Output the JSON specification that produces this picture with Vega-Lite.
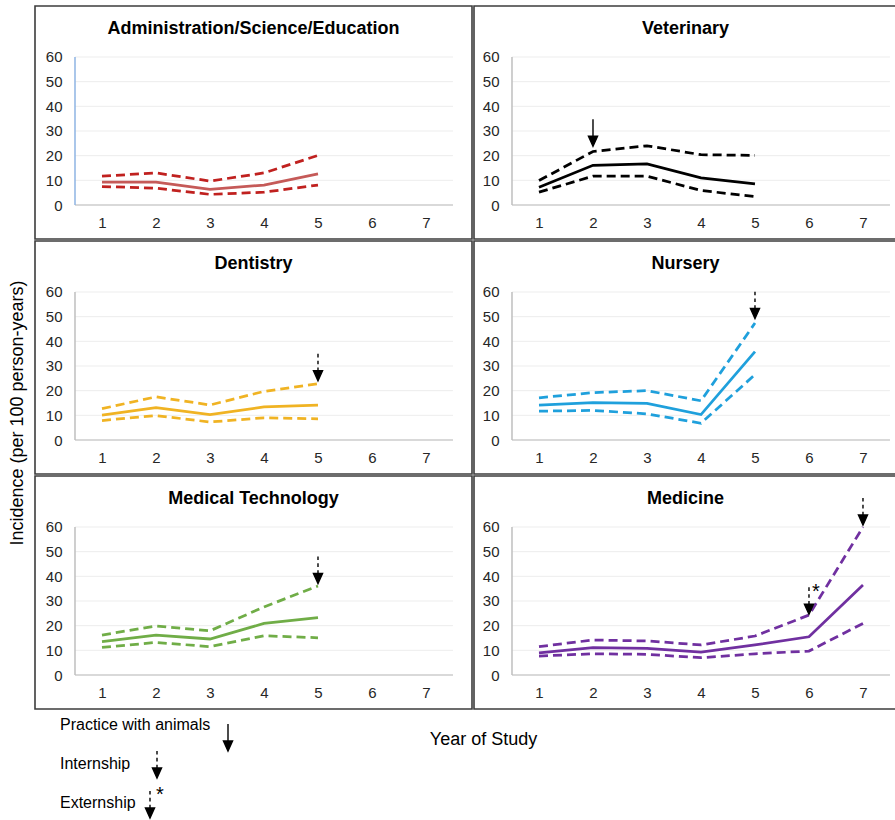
{
 "$schema": "https://vega.github.io/schema/vega-lite/v6.json",
 "padding": {"left": 9, "top": 5, "right": 0, "bottom": 0},
 "title": {"text": "Incidence (per 100 person-years)", "orient": "left", "anchor": "middle", "fontSize": 18, "fontWeight": "normal", "color": "#000", "offset": 7, "frame": "bounds"},
 "spacing": 0,
 "config": {
  "font": "Liberation Sans",
  "view": {"stroke": "#3c3c3c", "strokeWidth": 1.6},
  "axis": {"minExtent": 0},
  "title": {"fontSize": 18, "fontWeight": "bold", "color": "#000", "anchor": "middle", "frame": "group", "offset": -32}
 },
 "datasets": {
  "gridTicks": [{"tick": 0}, {"tick": 10}, {"tick": 20}, {"tick": 30}, {"tick": 40}, {"tick": 50}, {"tick": 60}],
  "one": [{"n": 1}],
  "admin": [
   {"year": 1, "est": 9.3, "lo": 7.5, "hi": 11.7},
   {"year": 2, "est": 9.3, "lo": 6.8, "hi": 13.0},
   {"year": 3, "est": 6.3, "lo": 4.3, "hi": 9.7},
   {"year": 4, "est": 8.1, "lo": 5.2, "hi": 13.0},
   {"year": 5, "est": 12.6, "lo": 8.1, "hi": 20.1}
  ],
  "vet": [
   {"year": 1, "est": 7.2, "lo": 5.2, "hi": 9.9},
   {"year": 2, "est": 16.1, "lo": 11.7, "hi": 21.7},
   {"year": 3, "est": 16.7, "lo": 11.7, "hi": 24.0},
   {"year": 4, "est": 11.0, "lo": 5.9, "hi": 20.4},
   {"year": 5, "est": 8.6, "lo": 3.4, "hi": 20.1}
  ],
  "dent": [
   {"year": 1, "est": 10.1, "lo": 7.9, "hi": 12.7},
   {"year": 2, "est": 13.1, "lo": 9.9, "hi": 17.5},
   {"year": 3, "est": 10.3, "lo": 7.3, "hi": 14.2},
   {"year": 4, "est": 13.4, "lo": 9.0, "hi": 19.7},
   {"year": 5, "est": 14.1, "lo": 8.6, "hi": 22.8}
  ],
  "nurs": [
   {"year": 1, "est": 14.1, "lo": 11.7, "hi": 17.1},
   {"year": 2, "est": 15.2, "lo": 12.0, "hi": 19.2},
   {"year": 3, "est": 14.8, "lo": 10.6, "hi": 20.0},
   {"year": 4, "est": 10.3, "lo": 6.8, "hi": 15.9},
   {"year": 5, "est": 35.8, "lo": 26.5, "hi": 47.4}
  ],
  "medtech": [
   {"year": 1, "est": 13.5, "lo": 11.2, "hi": 16.2},
   {"year": 2, "est": 16.2, "lo": 13.2, "hi": 19.9},
   {"year": 3, "est": 14.6, "lo": 11.5, "hi": 17.9},
   {"year": 4, "est": 20.9, "lo": 15.9, "hi": 27.6},
   {"year": 5, "est": 23.3, "lo": 15.1, "hi": 36.1}
  ],
  "medicine": [
   {"year": 1, "est": 9.0, "lo": 7.7, "hi": 11.5},
   {"year": 2, "est": 11.1, "lo": 8.6, "hi": 14.2},
   {"year": 3, "est": 10.8, "lo": 8.4, "hi": 13.8},
   {"year": 4, "est": 9.3, "lo": 7.0, "hi": 12.2},
   {"year": 5, "est": 12.2, "lo": 8.6, "hi": 15.8},
   {"year": 6, "est": 15.5, "lo": 9.7, "hi": 24.3},
   {"year": 7, "est": 36.5, "lo": 20.9, "hi": 60.0}
  ],
  "events": [
   {"field": "Veterinary", "year": 2, "kind": "Practice with animals", "tip": 23.8},
   {"field": "Dentistry", "year": 5, "kind": "Internship", "tip": 24.0},
   {"field": "Nursery", "year": 5, "kind": "Internship", "tip": 49.2},
   {"field": "Medical Technology", "year": 5, "kind": "Internship", "tip": 37.1},
   {"field": "Medicine", "year": 6, "kind": "Externship", "tip": 24.6},
   {"field": "Medicine", "year": 7, "kind": "Internship", "tip": 60.8}
  ],
  "legendItems": [{"kind": "Practice with animals"}, {"kind": "Internship"}, {"kind": "Externship"}]
 },
 "vconcat": [
  {"spacing": 0, "hconcat": [
   {"width": 437, "height": 233, "title": {"text": "Administration/Science/Education"},
    "layer": [
     {"data": {"name": "gridTicks"}, "mark": {"type": "rule", "strokeWidth": 1},
      "encoding": {
       "y": {"field": "tick", "type": "quantitative", "scale": {"domain": [-13.78, 80.67], "nice": false, "zero": false},
        "axis": {"orient": "left", "offset": -40, "values": [0, 10, 20, 30, 40, 50, 60], "tickCount": 12, "title": null, "domain": false, "ticks": false, "tickSize": 0, "grid": false, "labelPadding": 13, "labelFontSize": 15, "labelColor": "#262626", "minExtent": 0, "labelOverlap": false}},
       "x": {"datum": 0.5, "type": "quantitative", "scale": {"domain": [-0.2407, 7.852], "nice": false, "zero": false},
        "axis": {"orient": "bottom", "offset": -34, "values": [1, 2, 3, 4, 5, 6, 7], "tickCount": 12, "format": "d", "title": null, "domain": false, "ticks": false, "tickSize": 0, "grid": false, "labelPadding": 10, "labelFontSize": 15, "labelColor": "#262626", "minExtent": 0, "labelFlush": false, "labelOverlap": false}},
       "x2": {"datum": 7.5},
       "color": {"condition": {"test": "datum.tick === 0", "value": "#b3b3b3"}, "value": "#ededed"}}},
     {"data": {"name": "one"}, "mark": {"type": "rule", "color": "#8eb4e3", "strokeWidth": 1.5},
      "encoding": {"x": {"datum": 0.5, "type": "quantitative"}, "y": {"datum": 0, "type": "quantitative"}, "y2": {"datum": 60}}},
     {"data": {"name": "admin"}, "mark": {"type": "line", "color": "#c0211f", "strokeWidth": 2.75, "strokeDash": [9, 5]},
      "encoding": {"x": {"field": "year", "type": "quantitative"}, "y": {"field": "lo", "type": "quantitative"}}},
     {"data": {"name": "admin"}, "mark": {"type": "line", "color": "#c0211f", "strokeWidth": 2.75, "strokeDash": [9, 5]},
      "encoding": {"x": {"field": "year", "type": "quantitative"}, "y": {"field": "hi", "type": "quantitative"}}},
     {"data": {"name": "admin"}, "mark": {"type": "line", "color": "#c55a58", "strokeWidth": 2.75},
      "encoding": {"x": {"field": "year", "type": "quantitative"}, "y": {"field": "est", "type": "quantitative"}}}
    ]},
   {"width": 423, "height": 233, "title": {"text": "Veterinary"},
    "layer": [
     {"data": {"name": "gridTicks"}, "mark": {"type": "rule", "strokeWidth": 1},
      "encoding": {
       "y": {"field": "tick", "type": "quantitative", "scale": {"domain": [-13.78, 80.67], "nice": false, "zero": false},
        "axis": {"orient": "left", "offset": -38, "values": [0, 10, 20, 30, 40, 50, 60], "tickCount": 12, "title": null, "domain": false, "ticks": false, "tickSize": 0, "grid": false, "labelPadding": 13, "labelFontSize": 15, "labelColor": "#262626", "minExtent": 0, "labelOverlap": false}},
       "x": {"datum": 0.5, "type": "quantitative", "scale": {"domain": [-0.2037, 7.63], "nice": false, "zero": false},
        "axis": {"orient": "bottom", "offset": -34, "values": [1, 2, 3, 4, 5, 6, 7], "tickCount": 12, "format": "d", "title": null, "domain": false, "ticks": false, "tickSize": 0, "grid": false, "labelPadding": 10, "labelFontSize": 15, "labelColor": "#262626", "minExtent": 0, "labelFlush": false, "labelOverlap": false}},
       "x2": {"datum": 7.5},
       "color": {"condition": {"test": "datum.tick === 0", "value": "#b3b3b3"}, "value": "#ededed"}}},
     {"data": {"name": "one"}, "mark": {"type": "rule", "color": "#bfbfbf", "strokeWidth": 1.5},
      "encoding": {"x": {"datum": 0.5, "type": "quantitative"}, "y": {"datum": 0, "type": "quantitative"}, "y2": {"datum": 60}}},
     {"data": {"name": "vet"}, "mark": {"type": "line", "color": "#000000", "strokeWidth": 2.75, "strokeDash": [9, 5]},
      "encoding": {"x": {"field": "year", "type": "quantitative"}, "y": {"field": "lo", "type": "quantitative"}}},
     {"data": {"name": "vet"}, "mark": {"type": "line", "color": "#000000", "strokeWidth": 2.75, "strokeDash": [9, 5]},
      "encoding": {"x": {"field": "year", "type": "quantitative"}, "y": {"field": "hi", "type": "quantitative"}}},
     {"data": {"name": "vet"}, "mark": {"type": "line", "color": "#000000", "strokeWidth": 2.75},
      "encoding": {"x": {"field": "year", "type": "quantitative"}, "y": {"field": "est", "type": "quantitative"}}},
     {"data": {"name": "events"}, "transform": [{"filter": {"field": "field", "equal": "Veterinary"}}],
      "mark": {"type": "point", "filled": true, "fill": "#000", "stroke": "#000", "strokeWidth": 1.4, "opacity": 1, "size": 169},
      "encoding": {"x": {"field": "year", "type": "quantitative"}, "y": {"field": "tip", "type": "quantitative"},
       "shape": {"field": "kind", "type": "nominal", "legend": null, "scale": {"domain": ["Practice with animals", "Internship", "Externship"], "range": ["M0,-4.15V-1.45M-0.7,-1.55L0.7,-1.55L0,0Z", "M0,-4.15V-3.6M0,-3.1V-2.55M0,-2.05V-1.55M-0.7,-1.55L0.7,-1.55L0,0Z", "M0,-4.15V-3.6M0,-3.1V-2.55M0,-2.05V-1.55M-0.7,-1.55L0.7,-1.55L0,0Z"]}}}}
    ]}
  ]},
  {"spacing": 0, "hconcat": [
   {"width": 437, "height": 233, "title": {"text": "Dentistry"},
    "layer": [
     {"data": {"name": "gridTicks"}, "mark": {"type": "rule", "strokeWidth": 1},
      "encoding": {
       "y": {"field": "tick", "type": "quantitative", "scale": {"domain": [-13.78, 80.67], "nice": false, "zero": false},
        "axis": {"orient": "left", "offset": -40, "values": [0, 10, 20, 30, 40, 50, 60], "tickCount": 12, "title": null, "domain": false, "ticks": false, "tickSize": 0, "grid": false, "labelPadding": 13, "labelFontSize": 15, "labelColor": "#262626", "minExtent": 0, "labelOverlap": false}},
       "x": {"datum": 0.5, "type": "quantitative", "scale": {"domain": [-0.2407, 7.852], "nice": false, "zero": false},
        "axis": {"orient": "bottom", "offset": -34, "values": [1, 2, 3, 4, 5, 6, 7], "tickCount": 12, "format": "d", "title": null, "domain": false, "ticks": false, "tickSize": 0, "grid": false, "labelPadding": 10, "labelFontSize": 15, "labelColor": "#262626", "minExtent": 0, "labelFlush": false, "labelOverlap": false}},
       "x2": {"datum": 7.5},
       "color": {"condition": {"test": "datum.tick === 0", "value": "#b3b3b3"}, "value": "#ededed"}}},
     {"data": {"name": "one"}, "mark": {"type": "rule", "color": "#bfbfbf", "strokeWidth": 1.5},
      "encoding": {"x": {"datum": 0.5, "type": "quantitative"}, "y": {"datum": 0, "type": "quantitative"}, "y2": {"datum": 60}}},
     {"data": {"name": "dent"}, "mark": {"type": "line", "color": "#f0b323", "strokeWidth": 2.75, "strokeDash": [9, 5]},
      "encoding": {"x": {"field": "year", "type": "quantitative"}, "y": {"field": "lo", "type": "quantitative"}}},
     {"data": {"name": "dent"}, "mark": {"type": "line", "color": "#f0b323", "strokeWidth": 2.75, "strokeDash": [9, 5]},
      "encoding": {"x": {"field": "year", "type": "quantitative"}, "y": {"field": "hi", "type": "quantitative"}}},
     {"data": {"name": "dent"}, "mark": {"type": "line", "color": "#f0b323", "strokeWidth": 2.75},
      "encoding": {"x": {"field": "year", "type": "quantitative"}, "y": {"field": "est", "type": "quantitative"}}},
     {"data": {"name": "events"}, "transform": [{"filter": {"field": "field", "equal": "Dentistry"}}],
      "mark": {"type": "point", "filled": true, "fill": "#000", "stroke": "#000", "strokeWidth": 1.4, "opacity": 1, "size": 169},
      "encoding": {"x": {"field": "year", "type": "quantitative"}, "y": {"field": "tip", "type": "quantitative"},
       "shape": {"field": "kind", "type": "nominal", "legend": null, "scale": {"domain": ["Practice with animals", "Internship", "Externship"], "range": ["M0,-4.15V-1.45M-0.7,-1.55L0.7,-1.55L0,0Z", "M0,-4.15V-3.6M0,-3.1V-2.55M0,-2.05V-1.55M-0.7,-1.55L0.7,-1.55L0,0Z", "M0,-4.15V-3.6M0,-3.1V-2.55M0,-2.05V-1.55M-0.7,-1.55L0.7,-1.55L0,0Z"]}}}}
    ]},
   {"width": 423, "height": 233, "title": {"text": "Nursery"},
    "layer": [
     {"data": {"name": "gridTicks"}, "mark": {"type": "rule", "strokeWidth": 1},
      "encoding": {
       "y": {"field": "tick", "type": "quantitative", "scale": {"domain": [-13.78, 80.67], "nice": false, "zero": false},
        "axis": {"orient": "left", "offset": -38, "values": [0, 10, 20, 30, 40, 50, 60], "tickCount": 12, "title": null, "domain": false, "ticks": false, "tickSize": 0, "grid": false, "labelPadding": 13, "labelFontSize": 15, "labelColor": "#262626", "minExtent": 0, "labelOverlap": false}},
       "x": {"datum": 0.5, "type": "quantitative", "scale": {"domain": [-0.2037, 7.63], "nice": false, "zero": false},
        "axis": {"orient": "bottom", "offset": -34, "values": [1, 2, 3, 4, 5, 6, 7], "tickCount": 12, "format": "d", "title": null, "domain": false, "ticks": false, "tickSize": 0, "grid": false, "labelPadding": 10, "labelFontSize": 15, "labelColor": "#262626", "minExtent": 0, "labelFlush": false, "labelOverlap": false}},
       "x2": {"datum": 7.5},
       "color": {"condition": {"test": "datum.tick === 0", "value": "#b3b3b3"}, "value": "#ededed"}}},
     {"data": {"name": "one"}, "mark": {"type": "rule", "color": "#bfbfbf", "strokeWidth": 1.5},
      "encoding": {"x": {"datum": 0.5, "type": "quantitative"}, "y": {"datum": 0, "type": "quantitative"}, "y2": {"datum": 60}}},
     {"data": {"name": "nurs"}, "mark": {"type": "line", "color": "#1fa0dc", "strokeWidth": 2.75, "strokeDash": [9, 5]},
      "encoding": {"x": {"field": "year", "type": "quantitative"}, "y": {"field": "lo", "type": "quantitative"}}},
     {"data": {"name": "nurs"}, "mark": {"type": "line", "color": "#1fa0dc", "strokeWidth": 2.75, "strokeDash": [9, 5]},
      "encoding": {"x": {"field": "year", "type": "quantitative"}, "y": {"field": "hi", "type": "quantitative"}}},
     {"data": {"name": "nurs"}, "mark": {"type": "line", "color": "#1fa0dc", "strokeWidth": 2.75},
      "encoding": {"x": {"field": "year", "type": "quantitative"}, "y": {"field": "est", "type": "quantitative"}}},
     {"data": {"name": "events"}, "transform": [{"filter": {"field": "field", "equal": "Nursery"}}],
      "mark": {"type": "point", "filled": true, "fill": "#000", "stroke": "#000", "strokeWidth": 1.4, "opacity": 1, "size": 169},
      "encoding": {"x": {"field": "year", "type": "quantitative"}, "y": {"field": "tip", "type": "quantitative"},
       "shape": {"field": "kind", "type": "nominal", "legend": null, "scale": {"domain": ["Practice with animals", "Internship", "Externship"], "range": ["M0,-4.15V-1.45M-0.7,-1.55L0.7,-1.55L0,0Z", "M0,-4.15V-3.6M0,-3.1V-2.55M0,-2.05V-1.55M-0.7,-1.55L0.7,-1.55L0,0Z", "M0,-4.15V-3.6M0,-3.1V-2.55M0,-2.05V-1.55M-0.7,-1.55L0.7,-1.55L0,0Z"]}}}}
    ]}
  ]},
  {"spacing": 0, "hconcat": [
   {"width": 437, "height": 233, "title": {"text": "Medical Technology"},
    "layer": [
     {"data": {"name": "gridTicks"}, "mark": {"type": "rule", "strokeWidth": 1},
      "encoding": {
       "y": {"field": "tick", "type": "quantitative", "scale": {"domain": [-13.78, 80.67], "nice": false, "zero": false},
        "axis": {"orient": "left", "offset": -40, "values": [0, 10, 20, 30, 40, 50, 60], "tickCount": 12, "title": null, "domain": false, "ticks": false, "tickSize": 0, "grid": false, "labelPadding": 13, "labelFontSize": 15, "labelColor": "#262626", "minExtent": 0, "labelOverlap": false}},
       "x": {"datum": 0.5, "type": "quantitative", "scale": {"domain": [-0.2407, 7.852], "nice": false, "zero": false},
        "axis": {"orient": "bottom", "offset": -34, "values": [1, 2, 3, 4, 5, 6, 7], "tickCount": 12, "format": "d", "title": null, "domain": false, "ticks": false, "tickSize": 0, "grid": false, "labelPadding": 10, "labelFontSize": 15, "labelColor": "#262626", "minExtent": 0, "labelFlush": false, "labelOverlap": false}},
       "x2": {"datum": 7.5},
       "color": {"condition": {"test": "datum.tick === 0", "value": "#b3b3b3"}, "value": "#ededed"}}},
     {"data": {"name": "one"}, "mark": {"type": "rule", "color": "#bfbfbf", "strokeWidth": 1.5},
      "encoding": {"x": {"datum": 0.5, "type": "quantitative"}, "y": {"datum": 0, "type": "quantitative"}, "y2": {"datum": 60}}},
     {"data": {"name": "medtech"}, "mark": {"type": "line", "color": "#70ad47", "strokeWidth": 2.75, "strokeDash": [9, 5]},
      "encoding": {"x": {"field": "year", "type": "quantitative"}, "y": {"field": "lo", "type": "quantitative"}}},
     {"data": {"name": "medtech"}, "mark": {"type": "line", "color": "#70ad47", "strokeWidth": 2.75, "strokeDash": [9, 5]},
      "encoding": {"x": {"field": "year", "type": "quantitative"}, "y": {"field": "hi", "type": "quantitative"}}},
     {"data": {"name": "medtech"}, "mark": {"type": "line", "color": "#70ad47", "strokeWidth": 2.75},
      "encoding": {"x": {"field": "year", "type": "quantitative"}, "y": {"field": "est", "type": "quantitative"}}},
     {"data": {"name": "events"}, "transform": [{"filter": {"field": "field", "equal": "Medical Technology"}}],
      "mark": {"type": "point", "filled": true, "fill": "#000", "stroke": "#000", "strokeWidth": 1.4, "opacity": 1, "size": 169},
      "encoding": {"x": {"field": "year", "type": "quantitative"}, "y": {"field": "tip", "type": "quantitative"},
       "shape": {"field": "kind", "type": "nominal", "legend": null, "scale": {"domain": ["Practice with animals", "Internship", "Externship"], "range": ["M0,-4.15V-1.45M-0.7,-1.55L0.7,-1.55L0,0Z", "M0,-4.15V-3.6M0,-3.1V-2.55M0,-2.05V-1.55M-0.7,-1.55L0.7,-1.55L0,0Z", "M0,-4.15V-3.6M0,-3.1V-2.55M0,-2.05V-1.55M-0.7,-1.55L0.7,-1.55L0,0Z"]}}}}
    ]},
   {"width": 423, "height": 233, "title": {"text": "Medicine"},
    "layer": [
     {"data": {"name": "gridTicks"}, "mark": {"type": "rule", "strokeWidth": 1},
      "encoding": {
       "y": {"field": "tick", "type": "quantitative", "scale": {"domain": [-13.78, 80.67], "nice": false, "zero": false},
        "axis": {"orient": "left", "offset": -38, "values": [0, 10, 20, 30, 40, 50, 60], "tickCount": 12, "title": null, "domain": false, "ticks": false, "tickSize": 0, "grid": false, "labelPadding": 13, "labelFontSize": 15, "labelColor": "#262626", "minExtent": 0, "labelOverlap": false}},
       "x": {"datum": 0.5, "type": "quantitative", "scale": {"domain": [-0.2037, 7.63], "nice": false, "zero": false},
        "axis": {"orient": "bottom", "offset": -34, "values": [1, 2, 3, 4, 5, 6, 7], "tickCount": 12, "format": "d", "title": null, "domain": false, "ticks": false, "tickSize": 0, "grid": false, "labelPadding": 10, "labelFontSize": 15, "labelColor": "#262626", "minExtent": 0, "labelFlush": false, "labelOverlap": false}},
       "x2": {"datum": 7.5},
       "color": {"condition": {"test": "datum.tick === 0", "value": "#b3b3b3"}, "value": "#ededed"}}},
     {"data": {"name": "one"}, "mark": {"type": "rule", "color": "#bfbfbf", "strokeWidth": 1.5},
      "encoding": {"x": {"datum": 0.5, "type": "quantitative"}, "y": {"datum": 0, "type": "quantitative"}, "y2": {"datum": 60}}},
     {"data": {"name": "medicine"}, "mark": {"type": "line", "color": "#7030a0", "strokeWidth": 2.75, "strokeDash": [9, 5]},
      "encoding": {"x": {"field": "year", "type": "quantitative"}, "y": {"field": "lo", "type": "quantitative"}}},
     {"data": {"name": "medicine"}, "mark": {"type": "line", "color": "#7030a0", "strokeWidth": 2.75, "strokeDash": [9, 5]},
      "encoding": {"x": {"field": "year", "type": "quantitative"}, "y": {"field": "hi", "type": "quantitative"}}},
     {"data": {"name": "medicine"}, "mark": {"type": "line", "color": "#7030a0", "strokeWidth": 2.75},
      "encoding": {"x": {"field": "year", "type": "quantitative"}, "y": {"field": "est", "type": "quantitative"}}},
     {"data": {"name": "events"}, "transform": [{"filter": {"field": "field", "equal": "Medicine"}}],
      "mark": {"type": "point", "filled": true, "fill": "#000", "stroke": "#000", "strokeWidth": 1.4, "opacity": 1, "size": 169},
      "encoding": {"x": {"field": "year", "type": "quantitative"}, "y": {"field": "tip", "type": "quantitative"},
       "shape": {"field": "kind", "type": "nominal", "legend": null, "scale": {"domain": ["Practice with animals", "Internship", "Externship"], "range": ["M0,-4.15V-1.45M-0.7,-1.55L0.7,-1.55L0,0Z", "M0,-4.15V-3.6M0,-3.1V-2.55M0,-2.05V-1.55M-0.7,-1.55L0.7,-1.55L0,0Z", "M0,-4.15V-3.6M0,-3.1V-2.55M0,-2.05V-1.55M-0.7,-1.55L0.7,-1.55L0,0Z"]}}}},
     {"data": {"name": "events"}, "transform": [{"filter": "datum.field === 'Medicine' && datum.kind === 'Externship'"}],
      "mark": {"type": "text", "text": "*", "fontSize": 20, "color": "#000", "baseline": "middle", "align": "center", "dx": 7, "dy": -22},
      "encoding": {"x": {"field": "year", "type": "quantitative"}, "y": {"field": "tip", "type": "quantitative"}}}
    ]}
  ]},
  {"width": 860, "height": 108, "view": {"stroke": null},
   "data": {"name": "legendItems"},
   "encoding": {"y": {"field": "kind", "type": "nominal", "scale": {"type": "point", "domain": ["Practice with animals", "Internship", "Externship"], "padding": 0.385}, "axis": null}},
   "layer": [
    {"mark": {"type": "text", "align": "left", "baseline": "middle", "fontSize": 16, "color": "#000"},
     "encoding": {"x": {"datum": 25, "type": "quantitative", "scale": {"domain": [0, 860], "nice": false, "zero": false},
       "axis": {"orient": "top", "title": "Year of Study", "labels": false, "ticks": false, "domain": false, "grid": false, "titleFontSize": 18, "titleFontWeight": "normal", "titleColor": "#000", "titleX": 448, "titleY": 29, "titleBaseline": "middle", "titleAlign": "center", "minExtent": 0}},
      "text": {"field": "kind"}}},
    {"transform": [{"filter": {"field": "kind", "equal": "Practice with animals"}}],
     "mark": {"type": "point", "shape": "M0,-4.15V-1.45M-0.7,-1.55L0.7,-1.55L0,0Z", "filled": true, "fill": "#000", "stroke": "#000", "strokeWidth": 1.4, "opacity": 1, "size": 169},
     "encoding": {"x": {"datum": 193, "type": "quantitative"}, "yOffset": {"value": 26}}},
    {"transform": [{"filter": {"field": "kind", "equal": "Internship"}}],
     "mark": {"type": "point", "shape": "M0,-4.15V-3.6M0,-3.1V-2.55M0,-2.05V-1.55M-0.7,-1.55L0.7,-1.55L0,0Z", "filled": true, "fill": "#000", "stroke": "#000", "strokeWidth": 1.4, "opacity": 1, "size": 169},
     "encoding": {"x": {"datum": 122, "type": "quantitative"}, "yOffset": {"value": 14}}},
    {"transform": [{"filter": {"field": "kind", "equal": "Externship"}}],
     "mark": {"type": "point", "shape": "M0,-4.15V-3.6M0,-3.1V-2.55M0,-2.05V-1.55M-0.7,-1.55L0.7,-1.55L0,0Z", "filled": true, "fill": "#000", "stroke": "#000", "strokeWidth": 1.4, "opacity": 1, "size": 169},
     "encoding": {"x": {"datum": 115, "type": "quantitative"}, "yOffset": {"value": 15}}},
    {"transform": [{"filter": {"field": "kind", "equal": "Externship"}}],
     "mark": {"type": "text", "text": "*", "fontSize": 20, "color": "#000", "baseline": "middle", "align": "center", "dy": -8},
     "encoding": {"x": {"datum": 125, "type": "quantitative"}}}
   ]}
 ]
}
